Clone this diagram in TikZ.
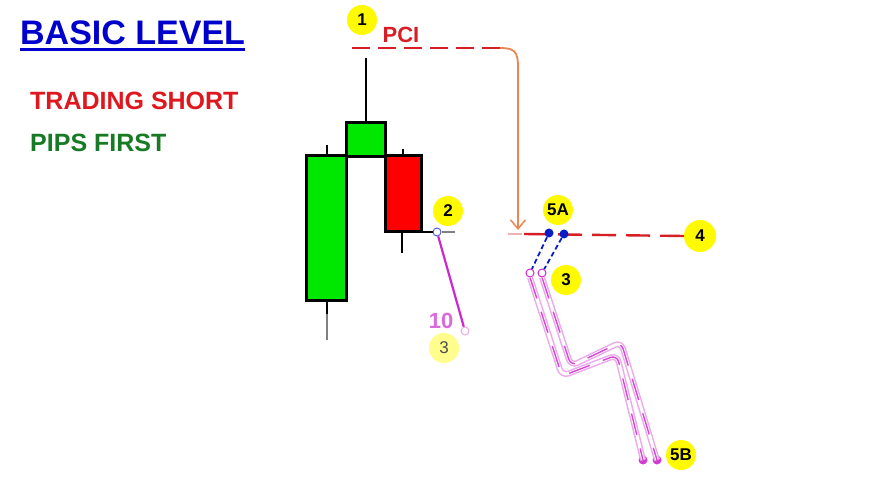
\documentclass[tikz,border=0pt]{standalone}
\usepackage{fontspec}
\setmainfont{Liberation Sans}
\usetikzlibrary{arrows.meta}
\definecolor{titleblue}{RGB}{0,0,205}
\definecolor{txtred}{RGB}{222,24,30}
\definecolor{txtgreen}{RGB}{24,122,36}
\definecolor{candlegreen}{RGB}{0,232,0}
\definecolor{candlered}{RGB}{255,0,0}
\definecolor{dashred}{RGB}{214,30,36}
\definecolor{arroworange}{RGB}{238,132,80}
\definecolor{badgeyellow}{RGB}{255,250,0}
\definecolor{mag}{RGB}{204,40,204}
\definecolor{lightmag}{RGB}{236,170,236}
\definecolor{dotblue}{RGB}{10,30,200}
\tikzset{
  badge/.style={circle, fill=badgeyellow, minimum size=30pt, inner sep=0pt, font=\bfseries\fontsize{17}{17}\selectfont},
  candle/.style={draw=black, line width=3pt},
  wick/.style={black, line width=2.8pt},
  reddash/.style={dashred, line width=2.4pt, dash pattern=on 18pt off 8pt},
  bluedash/.style={dotblue, line width=1.8pt, dash pattern=on 5pt off 3pt},
  opendot/.style={circle, draw, fill=white, minimum size=8pt, inner sep=0pt, line width=1pt},
  filldot/.style={circle, fill, minimum size=9pt, inner sep=0pt},
  zigband/.style={line join=round, rounded corners=7pt},
}
\begin{document}
\begin{tikzpicture}[x=1pt,y=-1pt]
\useasboundingbox[fill=white] (0,0) rectangle (869,478);

% texts on the left
\node[anchor=base west, inner sep=0pt, text=titleblue, font=\bfseries\fontsize{34}{34}\selectfont] (title) at (20,45) {BASIC LEVEL};
\draw[titleblue, line width=3pt] ([yshift=-5pt]title.base west) -- ([yshift=-5pt]title.base east);
\node[anchor=base west, inner sep=0pt, text=txtred, font=\bfseries\fontsize{25}{25}\selectfont] (short) at (30,110) {TRADING SHORT};
\node[anchor=base west, inner sep=0pt, text=txtgreen, font=\bfseries\fontsize{25}{25}\selectfont] (pips) at (30,152) {PIPS FIRST};

% candles
\draw[wick] (327,145) -- (327,156);
\draw[wick] (327,300) -- (327,314);
\draw[gray, line width=2pt] (327,314) -- (327,340);
\draw[candle, fill=candlegreen] (306,156) rectangle (346,300);
\draw[wick] (366,58) -- (366,123);
\draw[candle, fill=candlegreen] (346,123) rectangle (385,157);
\draw[wick] (403,149) -- (403,156);
\draw[wick] (402,232) -- (402,253);
\draw[candle, fill=candlered] (385,156) rectangle (421,232);

% line from red candle close
\coordinate (rc) at (421,232);
\node[opendot, draw=dotblue!70] (o2) at (437,232) {};
\coordinate (gl) at (455,232);
\draw[black, line width=2.2pt] (rc) -- (o2);
\draw[gray, line width=1.5pt] (o2) -- (gl);
\node[opendot, draw=lightmag] (o10) at (465,331) {};
\draw[mag, line width=2.2pt] (o2) -- (o10);
\node[text=mag!70, font=\bfseries\fontsize{22}{22}\selectfont] (ten) at (441,321) {10};
\node[badge, fill=badgeyellow!45, text=black!70, font=\fontsize{17}{17}\selectfont] (b3a) at (444,348) {3};
\node[badge] (b2) at (448,211) {2};

% PCI
\node[badge] (b1) at (362,20) {1};
\node[text=dashred, font=\bfseries\fontsize{22}{22}\selectfont] (pci) at (401,35) {PCI};
\coordinate (pcistart) at (352,48);
\coordinate (pciend) at (500,48);
\draw[reddash] (pcistart) -- (pciend);
\coordinate (arrtip) at (518,230);
\draw[arroworange, line width=1.8pt, -{Straight Barb[length=9pt, width=15pt, line width=1.5pt]}] (pciend) .. controls (519,48) and (518,55) .. (518,75) -- (arrtip);

% level 4 line
\coordinate (l4start) at (508,234);
\node[badge, minimum size=32pt] (b4) at (700,236) {4};
\draw[dashred!35, line width=2pt] (l4start) -- (522,234);
\draw[reddash, dash pattern=on 24pt off 10pt] (524,234) -- (b4.west);

% 5A
\node[badge] (b5a) at (558,210) {5A};
\node[filldot, fill=dotblue] (d1) at (549,233) {};
\node[filldot, fill=dotblue] (d2) at (564,234) {};
\node[opendot, draw=mag] (p1) at (530,273) {};
\node[opendot, draw=mag] (p2) at (542,273) {};
\draw[bluedash] (d1) -- (p1);
\draw[bluedash] (d2) -- (p2);
\node[badge] (b3b) at (566,280) {3};

% zigzag paths
\node[filldot, fill=mag!90] (e1) at (643,460) {};
\node[filldot, fill=mag!90] (e2) at (657,460) {};
\foreach \s/\e/\ca/\cb in {p1/e1/{562,376}/{617,355}, p2/e2/{571,366}/{621,342}} {
  \draw[zigband, lightmag, line width=6pt] (\s.south) -- (\ca) -- (\cb) -- (\e.center);
  \draw[zigband, white, line width=3pt] (\s.south) -- (\ca) -- (\cb) -- (\e.center);
  \draw[zigband, mag!85, line width=1.4pt, dash pattern=on 22pt off 14pt] (\s.south) -- (\ca) -- (\cb) -- (\e.center);
}
\node[badge] (b5b) at (681,455) {5B};
\end{tikzpicture}
\end{document}
